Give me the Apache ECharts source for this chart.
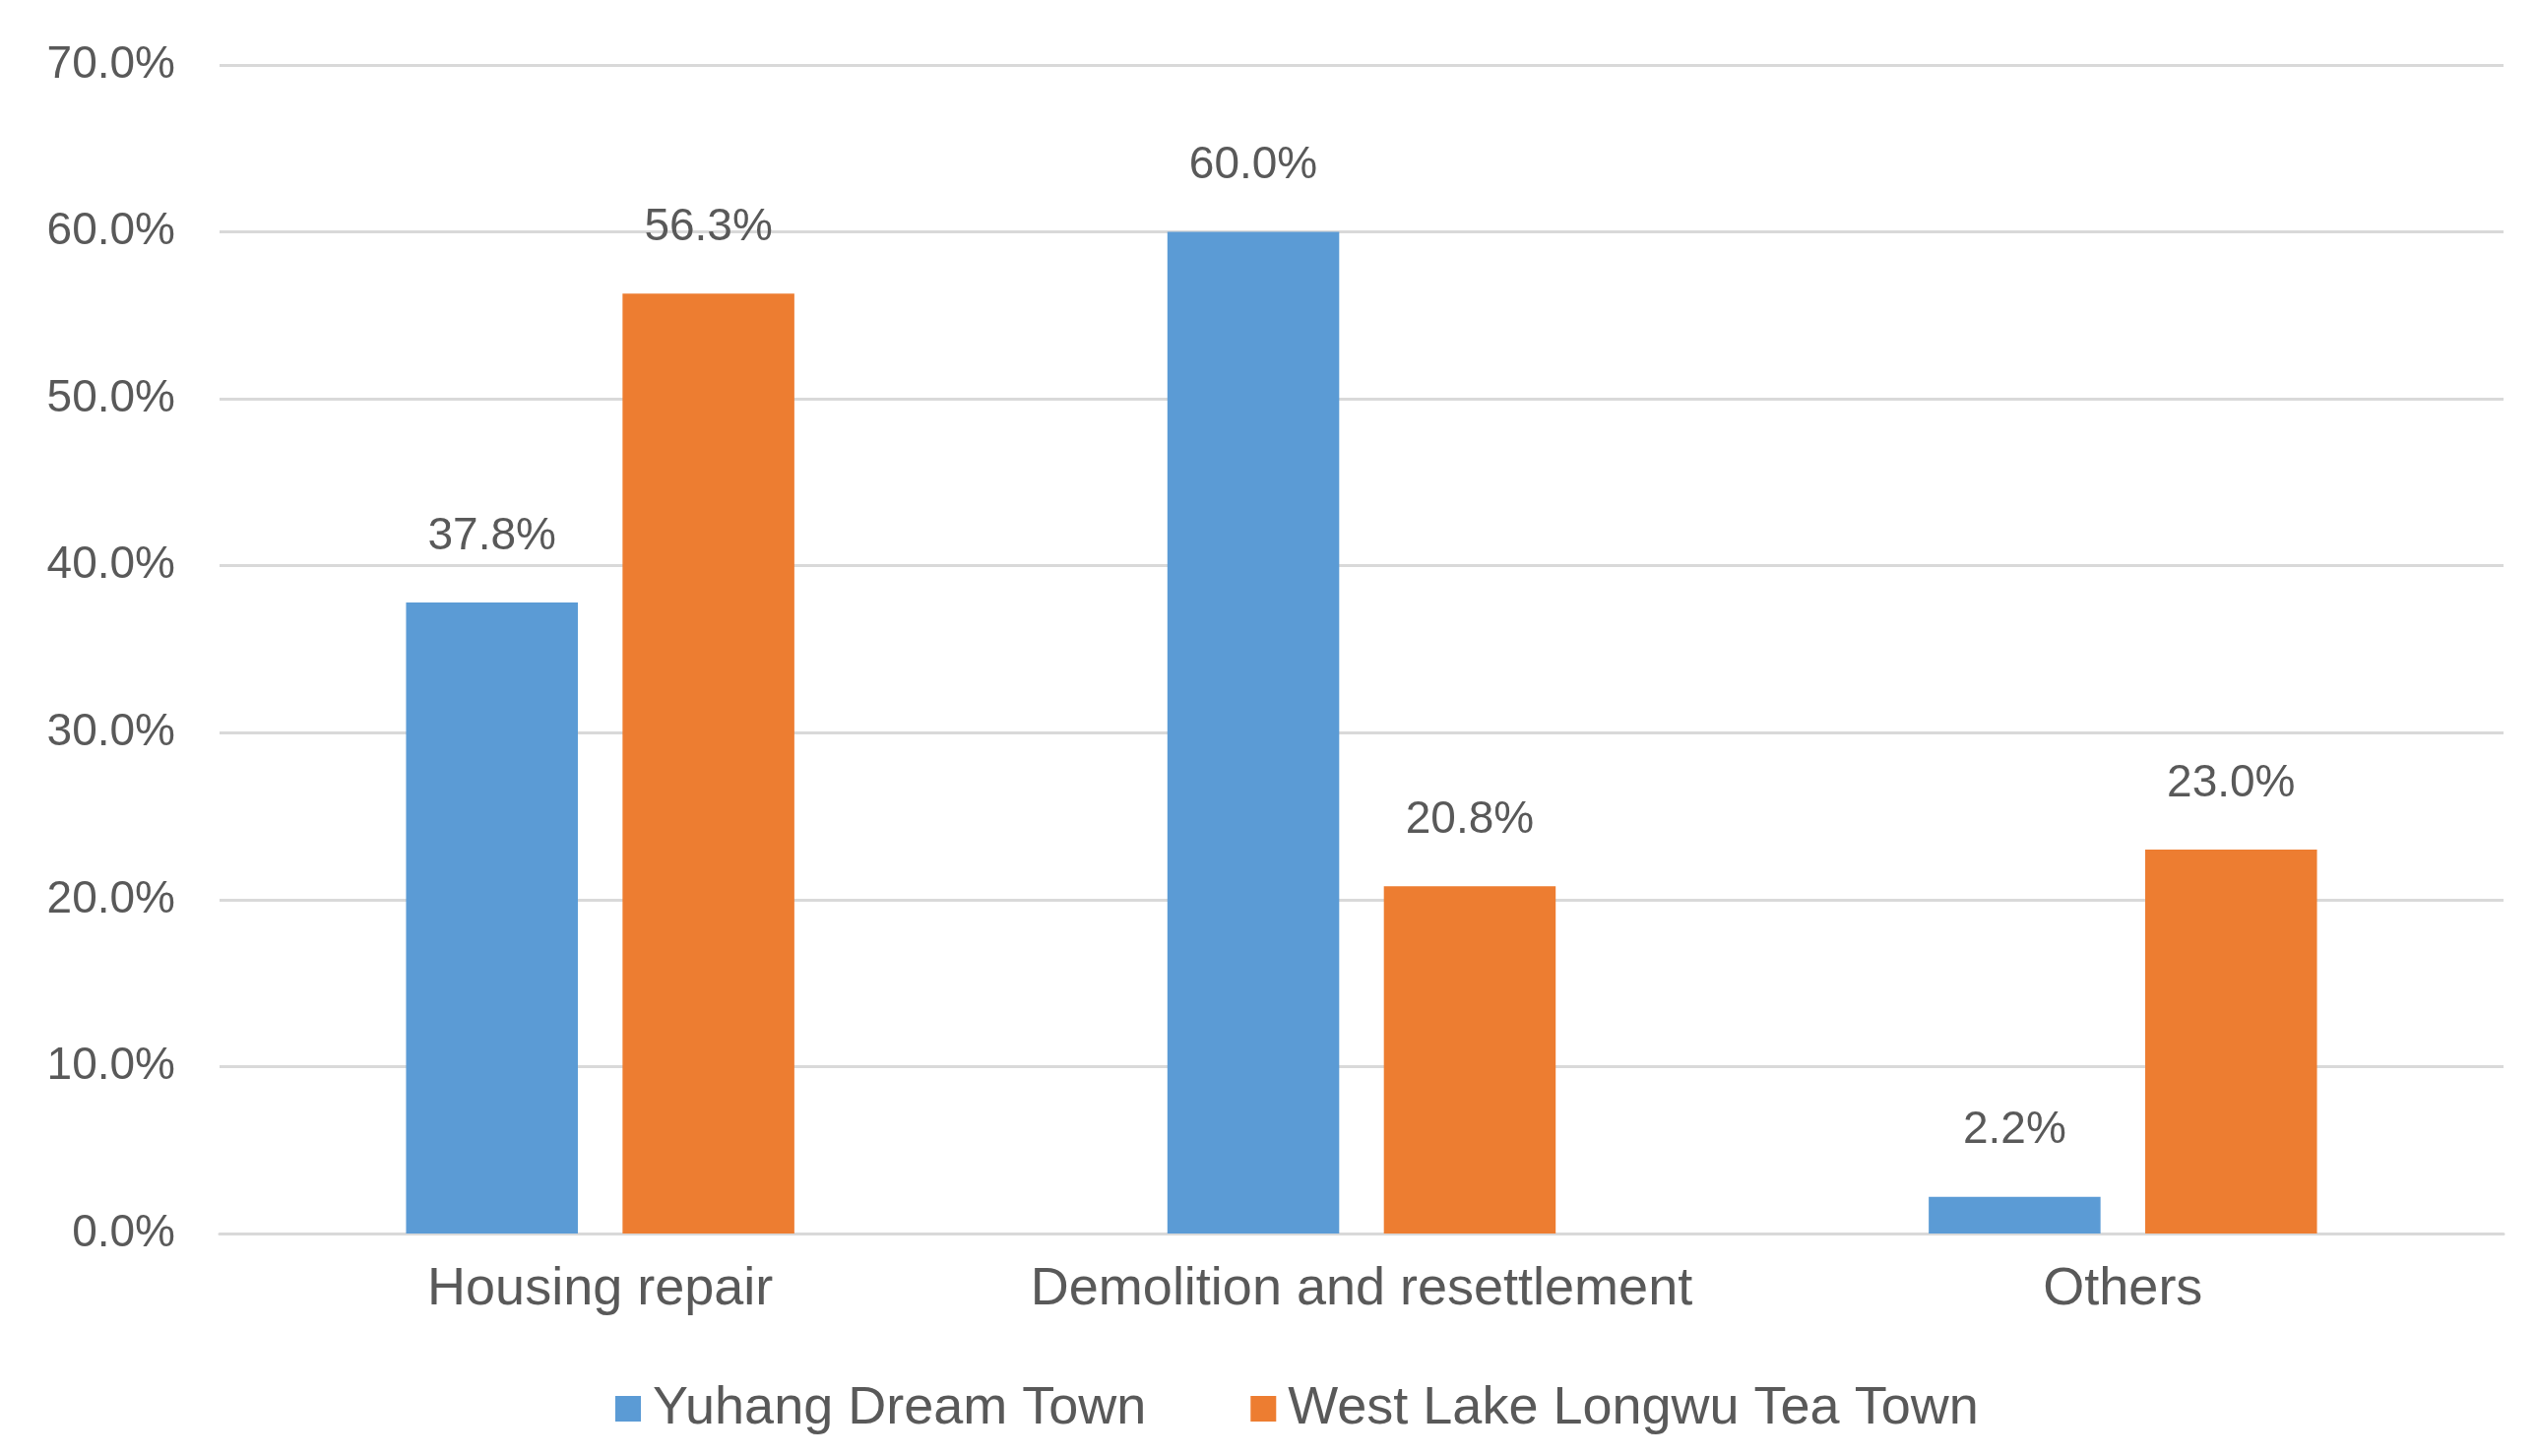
<!DOCTYPE html>
<html>
<head>
<meta charset="utf-8">
<script src="https://cdn.jsdelivr.net/npm/echarts@6/dist/echarts.min.js"></script>
<style>
html,body{margin:0;padding:0;background:#fff;}
#chart{width:2577px;height:1479px;}
</style>
</head>
<body>
<div id="chart"></div>
<script>
const categories = ['Housing repair', 'Demolition and resettlement', 'Others'];
const seriesNames = ['Yuhang Dream Town', 'West Lake Longwu Tea Town'];
const yuhangValues = [37.8, 60.0, 2.2];
const westLakeValues = [56.3, 20.8, 23.0];
const yTicks = [0, 10, 20, 30, 40, 50, 60, 70];

const FONT = "'Liberation Sans', Arial, sans-serif";
const TEXT = '#595959';

const chart = echarts.init(document.getElementById('chart'));
const labelCfg = {
  show: true,
  position: 'top',
  distance: 44,
  fontSize: 46,
  fontFamily: FONT,
  color: TEXT,
  formatter: p => p.value.toFixed(1) + '%'
};
chart.setOption({
  backgroundColor: '#ffffff',
  animation: false,
  grid: { left: 223, right: 34, top: 66, bottom: 226, containLabel: false },
  legend: {
    data: seriesNames,
    left: 620,
    top: 1399,
    icon: 'rect',
    itemWidth: 26,
    itemHeight: 26,
    itemGap: 106,
    textStyle: { fontSize: 54, fontFamily: FONT, color: TEXT, padding: [0, 0, 0, 7] }
  },
  xAxis: {
    type: 'category',
    data: categories,
    axisLine: { show: true, lineStyle: { color: '#D9D9D9', width: 3 } },
    axisTick: { show: false },
    axisLabel: { fontSize: 54, fontFamily: FONT, color: TEXT, margin: 30, interval: 0 }
  },
  yAxis: {
    type: 'value',
    min: yTicks[0],
    max: yTicks[yTicks.length - 1],
    interval: 10,
    axisLine: { show: false },
    axisTick: { show: false },
    splitLine: { lineStyle: { color: '#D9D9D9', width: 3 } },
    axisLabel: { fontSize: 46, fontFamily: FONT, color: TEXT, margin: 45,
      formatter: v => v.toFixed(1) + '%' }
  },
  series: [
    { name: seriesNames[0], type: 'bar', data: yuhangValues,
      itemStyle: { color: '#5B9BD5' }, barGap: '26%', barCategoryGap: '49%', label: labelCfg },
    { name: seriesNames[1], type: 'bar', data: westLakeValues,
      itemStyle: { color: '#ED7D31' }, barGap: '26%', barCategoryGap: '49%', label: labelCfg }
  ]
});
</script>
</body>
</html>
